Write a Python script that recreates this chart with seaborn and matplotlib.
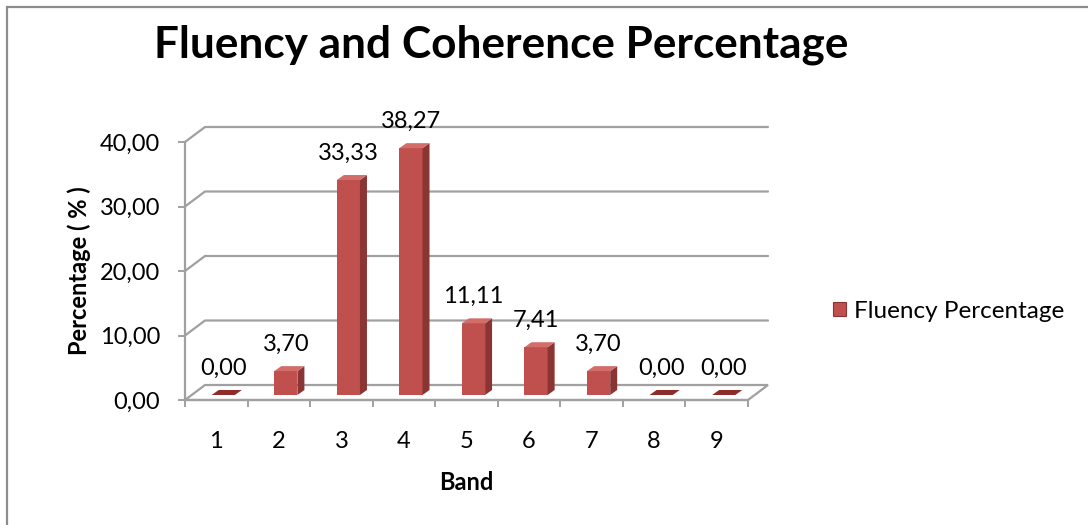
import matplotlib
matplotlib.use("Agg")
import matplotlib.pyplot as plt
import matplotlib.transforms as mtransforms
from matplotlib.patches import Polygon, Patch, Rectangle
import seaborn as sns
import pandas as pd

# Data
bands = ["1", "2", "3", "4", "5", "6", "7", "8", "9"]
fluency_pct = [0.00, 3.70, 33.33, 38.27, 11.11, 7.41, 3.70, 0.00, 0.00]
y_ticks = [0, 10, 20, 30, 40]

title = "Fluency and Coherence Percentage"
series_name = "Fluency Percentage"

FRONT = "#C0504D"
SIDE = "#8A3533"
TOP = "#D36D6A"
FLAT = "#8E2C2A"
GRID = "#A0A0A0"

sns.set_theme(style="white")
plt.rcParams["font.family"] = ["Lato", "DejaVu Sans"]
plt.rcParams.update({"text.color": "black", "axes.labelcolor": "black",
                     "xtick.labelcolor": "black", "ytick.labelcolor": "black"})

W, H, DPI = 1088, 525, 100
fig = plt.figure(figsize=(W / DPI, H / DPI), dpi=DPI)
fig.patch.set_facecolor("white")

# plot area in pixels (front plane)
x0_px, x1_px, y0_px, ytop_px = 185, 748, 400, 142
ax = fig.add_axes([x0_px / W, 1 - y0_px / H, (x1_px - x0_px) / W, (y0_px - ytop_px) / H])
ax.set_facecolor("none")

df = pd.DataFrame({"Band": bands, "Pct": fluency_pct})
sns.barplot(data=df, x="Band", y="Pct", color=FRONT, width=0.37, saturation=1,
            ax=ax, zorder=3)
bars = list(ax.patches)
ax.set_xlim(-0.5, len(bands) - 0.5)
ax.set_ylim(0, 40)

# pixel -> data unit conversion
px_x = (x1_px - x0_px) / len(bands)
px_y = (y0_px - ytop_px) / 40.0
def dx(p):
    return p / px_x
def dy(p):
    return p / px_y

# back wall gridlines and floor, drawn with a perspective depth
wall_dx, wall_dy = dx(20), dy(15)
xl, xr = -0.5, len(bands) - 0.5

for v in y_ticks[1:]:
    ax.plot([xl, xl + wall_dx, xr + wall_dx], [v, v + wall_dy, v + wall_dy],
            color=GRID, lw=1.6, clip_on=False, zorder=1)

floor = Polygon([(xl, 0), (xr, 0), (xr + wall_dx, wall_dy), (xl + wall_dx, wall_dy)],
                closed=True, facecolor="white", edgecolor=GRID, lw=1.6,
                clip_on=False, zorder=1.5)
ax.add_patch(floor)

# bars: lift off the floor and add side/top faces
lift = mtransforms.ScaledTranslation(7 / DPI, 5 / DPI, fig.dpi_scale_trans)
btrans = ax.transData + lift
sdx, sdy = dx(7), dy(5)
for patch, val in zip(bars, fluency_pct):
    patch.set_transform(btrans)
    patch.set_clip_on(False)
    patch.set_edgecolor("none")
    x, w, h = patch.get_x(), patch.get_width(), patch.get_height()
    top_col = TOP if h > 0 else FLAT
    side = Polygon([(x + w, 0), (x + w + sdx, sdy), (x + w + sdx, h + sdy), (x + w, h)],
                   closed=True, facecolor=SIDE, edgecolor="none", transform=btrans,
                   clip_on=False, zorder=3)
    top = Polygon([(x, h), (x + w, h), (x + w + sdx, h + sdy), (x + sdx, h + sdy)],
                  closed=True, facecolor=top_col, edgecolor="none", transform=btrans,
                  clip_on=False, zorder=3.5)
    ax.add_patch(side)
    ax.add_patch(top)
    ax.annotate(f"{val:.2f}".replace(".", ","), xy=(x + w / 2, val),
                xytext=(7 * 72 / DPI, 32 * 72 / DPI), textcoords="offset points",
                ha="center", va="center", fontsize=17, color="black",
                annotation_clip=False, zorder=5)

# axes styling
for s in ["top", "right"]:
    ax.spines[s].set_visible(False)
for s in ["left", "bottom"]:
    ax.spines[s].set_color(GRID)
    ax.spines[s].set_linewidth(1.6)
    ax.spines[s].set_zorder(2)

ax.set_yticks(y_ticks)
ax.set_yticklabels([f"{v:.2f}".replace(".", ",") for v in y_ticks])
ax.tick_params(axis="y", length=5, width=1.4, color=GRID, labelcolor="black",
               pad=13, labelsize=17, left=True)
ax.set_xticks(range(len(bands)))
ax.set_xticklabels(bands)
ax.set_xticks([i - 0.5 for i in range(len(bands) + 1)], minor=True)
ax.tick_params(axis="x", which="major", length=0, pad=22, labelsize=17,
               labelcolor="black")
ax.tick_params(axis="x", which="minor", length=5, width=1.4, color=GRID, bottom=True)

ax.set_xlabel("Band", fontsize=17, fontweight="bold", labelpad=14, color="black")
ax.set_ylabel("Percentage ( % )", fontsize=17, fontweight="bold", labelpad=6,
              color="black")

fig.text(501 / W, 1 - 45 / H, title, ha="center", va="center",
         fontsize=31.8, fontweight="bold", color="black")

fig.legend(handles=[Patch(facecolor=FRONT, edgecolor=SIDE, linewidth=0.8)],
           labels=[series_name], loc="center left",
           bbox_to_anchor=(833 / W, 1 - 311 / H), frameon=False,
           fontsize=17.5, handlelength=0.55, handleheight=0.55,
           handletextpad=0.3, borderpad=0, borderaxespad=0, labelcolor="black")

# chart frame
fig.add_artist(Rectangle((7 / W, -0.1), 1.2, (H - 7) / H + 0.1,
                         transform=fig.transFigure, fill=False,
                         edgecolor="#8C8C8C", lw=1.6))

fig.savefig("out.png", dpi=DPI)
